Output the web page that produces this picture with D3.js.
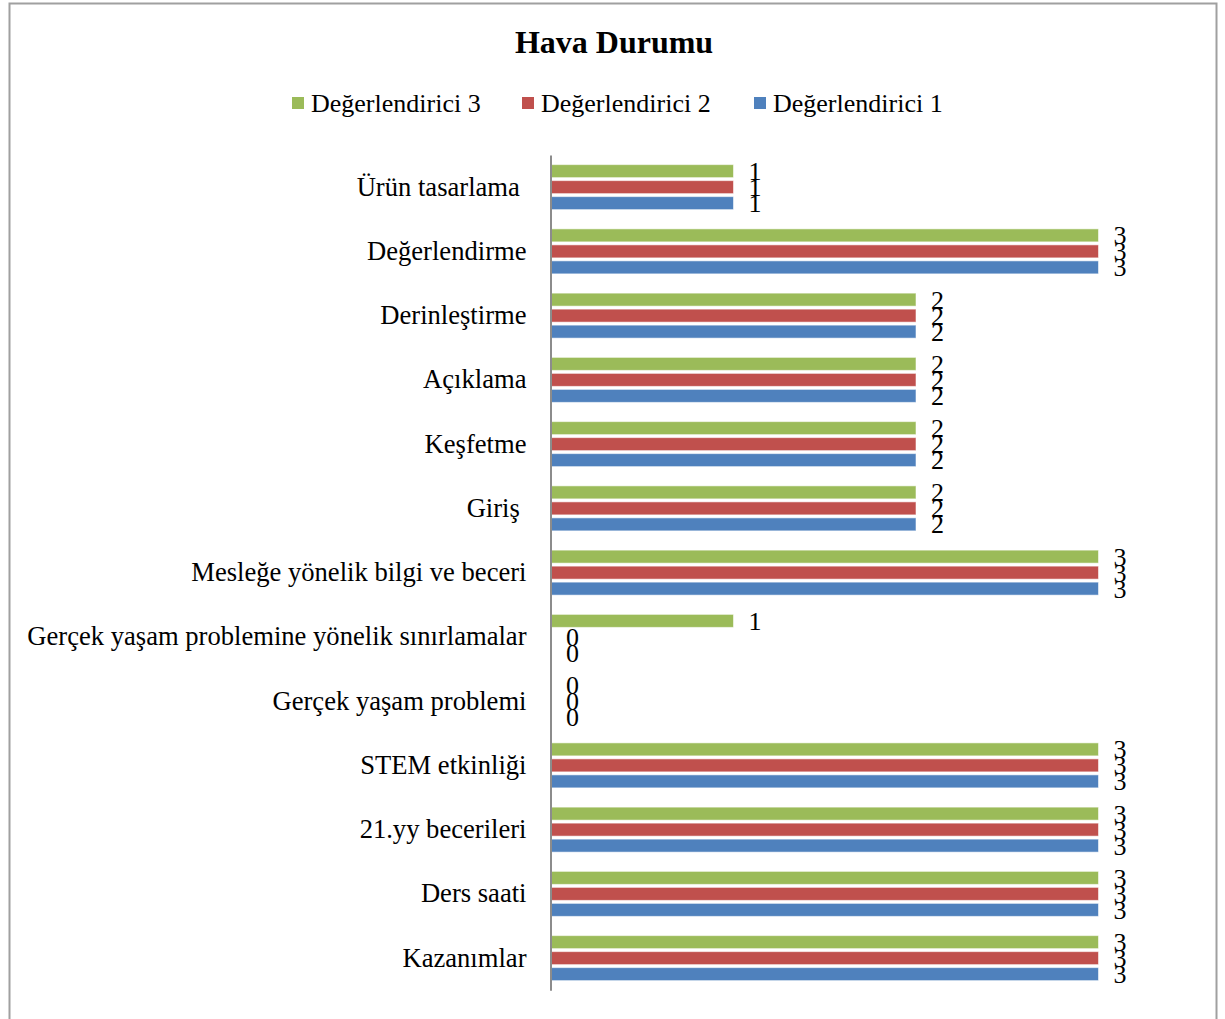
<!DOCTYPE html>
<html>
<head>
<meta charset="utf-8">
<script src="https://cdn.jsdelivr.net/npm/d3@7"></script>
<style>
  html, body { margin: 0; padding: 0; background: #fff; }
  svg { display: block; }
  text { font-family: "Liberation Serif", "Times New Roman", serif; fill: #000; white-space: pre; }
</style>
</head>
<body>
<svg id="chart" width="1225" height="1019"></svg>
<script>
// Categories, listed top to bottom
const categories = [
  "Ürün tasarlama ",
  "Değerlendirme",
  "Derinleştirme",
  "Açıklama",
  "Keşfetme",
  "Giriş ",
  "Mesleğe yönelik bilgi ve beceri",
  "Gerçek yaşam problemine yönelik sınırlamalar",
  "Gerçek yaşam problemi",
  "STEM etkinliği",
  "21.yy becerileri",
  "Ders saati",
  "Kazanımlar"
];

// Scores per rater
const rater1 = [1, 3, 2, 2, 2, 2, 3, 0, 0, 3, 3, 3, 3];
const rater2 = [1, 3, 2, 2, 2, 2, 3, 0, 0, 3, 3, 3, 3];
const rater3 = [1, 3, 2, 2, 2, 2, 3, 1, 0, 3, 3, 3, 3];

const seriesNames = ["Değerlendirici 3", "Değerlendirici 2", "Değerlendirici 1"];
const seriesValues = [rater3, rater2, rater1];
const seriesColors = ["#9BBB59", "#C0504D", "#4F81BD"];

const svg = d3.select("#chart");

// Outer frame
svg.append("rect")
  .attr("x", 9.5).attr("y", 3.5)
  .attr("width", 1207).attr("height", 1100)
  .attr("fill", "none")
  .attr("stroke", "#a0a0a0")
  .attr("stroke-width", 2);

// Title
svg.append("text")
  .attr("x", 614).attr("y", 53)
  .attr("text-anchor", "middle")
  .attr("font-size", 32)
  .attr("font-weight", "bold")
  .text("Hava Durumu");

// Scales
const x = d3.scaleLinear().domain([0, 3]).range([551, 1098.5]);
const y = d3.scaleBand().domain(categories).range([155, 990.25]);
const ySub = d3.scaleBand().domain(seriesNames)
  .range([-24, 24]).paddingInner(0.1875).paddingOuter(0.09375);

// Legend
const legendItems = [
  { name: seriesNames[0], color: seriesColors[0], x: 292 },
  { name: seriesNames[1], color: seriesColors[1], x: 522 },
  { name: seriesNames[2], color: seriesColors[2], x: 754 }
];
const legend = svg.append("g");
legendItems.forEach(item => {
  legend.append("rect")
    .attr("x", item.x).attr("y", 97)
    .attr("width", 12).attr("height", 12)
    .attr("fill", item.color);
  legend.append("text")
    .attr("x", item.x + 19).attr("y", 112)
    .attr("font-size", 26)
    .text(item.name);
});

// Bars and value labels
const rows = [];
seriesNames.forEach((s, si) => {
  categories.forEach((c, ci) => {
    rows.push({ series: s, category: c, value: seriesValues[si][ci], color: seriesColors[si] });
  });
});

const bars = svg.append("g");
bars.selectAll("rect")
  .data(rows)
  .join("rect")
  .attr("x", x(0))
  .attr("y", d => y(d.category) + y.bandwidth() / 2 + ySub(d.series))
  .attr("width", d => x(d.value) - x(0))
  .attr("height", ySub.bandwidth())
  .attr("fill", d => d.color)
  .attr("stroke", "rgba(255,255,255,0.55)")
  .attr("stroke-width", 1);

svg.append("g").selectAll("text")
  .data(rows)
  .join("text")
  .attr("x", d => x(d.value) + 15)
  .attr("y", d => y(d.category) + y.bandwidth() / 2 + ySub(d.series) + ySub.bandwidth() / 2)
  .attr("dy", "0.35em")
  .attr("font-size", 26)
  .text(d => d.value);

// Category axis
const axis = svg.append("g")
  .attr("transform", "translate(550.5,0)")
  .call(d3.axisLeft(y).tickSizeInner(0).tickSizeOuter(0).tickPadding(24));
axis.select(".domain").attr("stroke", "#8c8c8c").attr("stroke-width", 2);
axis.selectAll(".tick text")
  .attr("font-size", 26.6)
  .attr("font-family", "Liberation Serif, Times New Roman, serif")
  .attr("fill", "#000")
  .attr("dy", "0.32em");
</script>
</body>
</html>
